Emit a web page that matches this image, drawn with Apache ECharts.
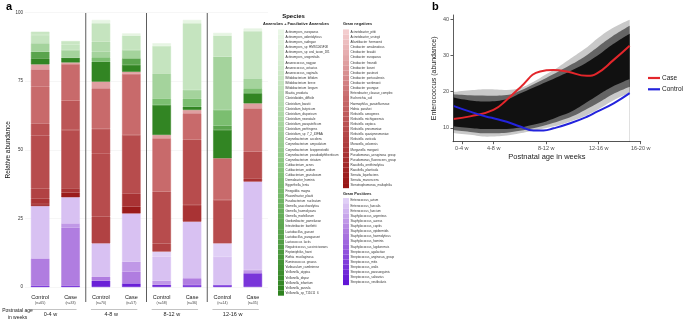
<!DOCTYPE html>
<html><head><meta charset="utf-8">
<script src="https://cdn.jsdelivr.net/npm/echarts@6/dist/echarts.min.js"></script>
<style>html,body{margin:0;padding:0;background:#fff}#c{width:685px;height:323px}</style>
</head><body><div id="c"></div><script>
// ---------- Panel a data ----------
const armLabels = ['Control','Case','Control','Case','Control','Case','Control','Case'];
const sampleSizes = ['n=65','n=33','n=70','n=57','n=58','n=36','n=14','n=35'];
const ageGroups = ['0-4 w','4-8 w','8-12 w','12-16 w'];
const barKeys = armLabels.map((a,i)=>a+' '+ageGroups[Math.floor(i/2)]);

const anaerobeSpecies = ['Actinomyces_europaeus','Actinomyces_odontolyticus','Actinomyces_radingae','Actinomyces_sp_HMSC065F08','Actinomyces_sp_oral_taxon_181','Actinomyces_urogenitalis','Anaerococcus_nagyae','Anaerococcus_octavius','Anaerococcus_vaginalis','Bifidobacterium_bifidum','Bifidobacterium_breve','Bifidobacterium_longum','Blautia_producta','Clostridioides_difficile','Clostridium_baratii','Clostridium_butyricum','Clostridium_disporicum','Clostridium_neonatale','Clostridium_paraputrificum','Clostridium_perfringens','Clostridium_sp_7_2_43FAA','Corynebacterium_accolens','Corynebacterium_amycolatum','Corynebacterium_kroppenstedtii','Corynebacterium_pseudodiphtheriticum','Corynebacterium_striatum','Cutibacterium_acnes','Cutibacterium_avidum','Cutibacterium_granulosum','Dermabacter_hominis','Eggerthella_lenta','Finegoldia_magna','Flavonifractor_plautii','Fusobacterium_nucleatum','Gemella_asaccharolytica','Gemella_haemolysans','Gemella_morbillorum','Gordonibacter_pamelaeae','Intestinibacter_bartlettii','Lactobacillus_gasseri','Lactobacillus_paragasseri','Lactococcus_lactis','Negativicoccus_succinicivorans','Peptoniphilus_harei','Rothia_mucilaginosa','Ruminococcus_gnavus','Varibaculum_cambriense','Veillonella_atypica','Veillonella_dispar','Veillonella_infantium','Veillonella_parvula','Veillonella_sp_T11011_6'];
const gramNegSpecies = ['Acinetobacter_pittii','Acinetobacter_ursingii','Atlantibacter_hermannii','Citrobacter_amalonaticus','Citrobacter_braakii','Citrobacter_europaeus','Citrobacter_freundii','Citrobacter_koseri','Citrobacter_pasteurii','Citrobacter_portucalensis','Citrobacter_werkmanii','Citrobacter_youngae','Enterobacter_cloacae_complex','Escherichia_coli','Haemophilus_parainfluenzae','Hafnia_paralvei','Klebsiella_aerogenes','Klebsiella_michiganensis','Klebsiella_oxytoca','Klebsiella_pneumoniae','Klebsiella_quasipneumoniae','Klebsiella_variicola','Moraxella_osloensis','Morganella_morganii','Pseudomonas_aeruginosa_group','Pseudomonas_fluorescens_group','Raoultella_ornithinolytica','Raoultella_planticola','Serratia_liquefaciens','Serratia_marcescens','Stenotrophomonas_maltophilia'];
const gramPosSpecies = ['Enterococcus_avium','Enterococcus_faecalis','Enterococcus_faecium','Staphylococcus_argenteus','Staphylococcus_aureus','Staphylococcus_capitis','Staphylococcus_epidermidis','Staphylococcus_haemolyticus','Staphylococcus_hominis','Staphylococcus_lugdunensis','Streptococcus_agalactiae','Streptococcus_anginosus_group','Streptococcus_mitis','Streptococcus_oralis','Streptococcus_parasanguinis','Streptococcus_salivarius','Streptococcus_vestibularis'];

// relative abundance per bar (Control/Case x 0-4, 4-8, 8-12, 12-16 w); unlisted species ~0
const gramPosValues = [
  ['Streptococcus_salivarius',   [0.5, 0.5, 2.3, 1.3, 0.8, 0.7, 0.7, 0]],
  ['Streptococcus_oralis',       [0, 0, 0, 0, 0, 0, 0, 5.0]],
  ['Staphylococcus_epidermidis', [9.9, 21.2, 1.5, 4.3, 0, 2.5, 0, 0]],
  ['Staphylococcus_aureus',      [0, 1.5, 0, 3.6, 1.5, 0, 0, 1.2]],
  ['Enterococcus_faecalis',      [19.1, 9.5, 12.1, 17.6, 8.8, 20.6, 10.3, 32.2]],
  ['Enterococcus_avium',         [0, 0, 0, 0, 1.8, 0, 4.9, 0]]
];
const gramNegValues = [
  ['Serratia_marcescens',          [0.7, 1.7, 0, 2.5, 0, 0, 0, 0]],
  ['Pseudomonas_aeruginosa_group', [2.1, 1.6, 0, 4.8, 0, 6.1, 0, 1.2]],
  ['Klebsiella_variicola',         [3.5, 0, 9.7, 0, 3.0, 0, 0, 0]],
  ['Klebsiella_pneumoniae',        [19.3, 21.2, 23.1, 21.3, 18.8, 23.7, 15.8, 9.7]],
  ['Klebsiella_oxytoca',           [4.5, 0, 8.9, 0, 0, 0, 0, 0]],
  ['Klebsiella_michiganensis',     [0, 10.7, 0, 0, 0, 0, 0, 0]],
  ['Escherichia_coli',             [13.5, 13.3, 14.8, 22.2, 19.5, 9.7, 15.2, 15.8]],
  ['Enterobacter_cloacae_complex', [6.2, 0, 0, 0, 0, 0, 0, 0]],
  ['Citrobacter_freundii',         [1.8, 0.6, 2.4, 0.8, 1.2, 1.2, 0, 1.8]]
];
const anaerobeValues = [
  ['Veillonella_parvula',       [2.2, 1.7, 7.3, 2.5, 10.9, 1.2, 10.3, 3.7]],
  ['Lactobacillus_gasseri',     [2.4, 0, 0, 2.4, 0, 0, 1.6, 0]],
  ['Eggerthella_lenta',         [0, 0, 1.6, 0, 2.4, 3.0, 5.7, 1.8]],
  ['Clostridium_perfringens',   [3.1, 2.8, 2.0, 3.0, 9.1, 3.1, 19.4, 3.6]],
  ['Clostridium_butyricum',     [0, 0, 3.7, 0, 0, 0, 0, 0]],
  ['Bifidobacterium_breve',     [3.0, 2.0, 6.7, 5.3, 10.0, 24.3, 7.7, 17.2]],
  ['Bifidobacterium_bifidum',   [1.2, 1.3, 0, 0, 0, 0, 0, 0]],
  ['Actinomyces_odontolyticus', [0, 0, 1.2, 0.8, 1.0, 1.2, 1.0, 1.0]]
];

// ---------- Panel b data ----------
const ageTickPositions = [3.57, 6.0, 10.0, 14.0, 17.2];
const ageTickLabels = ['0-4 w','4-8 w','8-12 w','12-16 w','16-20 w'];
const bandX      = [2.92, 4.2, 5.5, 7.0, 8.0, 9.0, 10.0, 11.0, 12.0, 13.0, 14.0, 15.0, 16.36];
const outerHigh  = [19.9, 20.4, 20.7, 20.5, 21.0, 22.7, 24.8, 27.0, 29.5, 32.0, 35.0, 37.5, 39.9];
const midHigh    = [19.3, 19.0, 18.9, 19.1, 20.3, 22.0, 23.8, 25.7, 27.7, 29.9, 32.6, 35.2, 38.2];
const denseHigh  = [18.4, 17.6, 17.3, 17.9, 19.5, 21.1, 22.7, 24.3, 26.0, 27.9, 30.2, 32.9, 36.0];
const denseLow   = [10.5, 10.0, 9.7, 9.7, 10.1, 10.9, 11.8, 13.2, 14.7, 16.9, 19.2, 21.3, 23.5];
const midLow     = [9.4, 8.9, 8.5, 8.7, 9.2, 9.9, 10.8, 11.9, 13.2, 15.0, 17.0, 19.2, 21.4];
const outerLow   = [8.6, 8.1, 7.6, 7.9, 8.5, 9.2, 10.0, 10.8, 12.0, 13.4, 15.2, 17.4, 19.7];
const caseX    = [2.92, 4.2, 5.98, 7.0, 8.02, 9.54, 10.56, 11.58, 13.1, 13.87, 15.14, 16.36];
const caseY    = [12.5, 13.2, 15.0, 17.8, 21.2, 25.6, 26.0, 25.6, 24.4, 25.1, 28.8, 32.7];
const controlX = [2.92, 4.2, 5.47, 5.98, 7.0, 8.02, 9.03, 9.8, 10.56, 11.83, 13.1, 13.87, 15.14, 16.36];
const controlY = [16.1, 14.5, 13.1, 12.7, 11.7, 10.4, 9.3, 9.3, 9.9, 11.3, 13.1, 14.5, 16.8, 19.6];

// ---------- colours ----------
function ramp(stops, t){
  for (let i=1;i<stops.length;i++){
    if (t<=stops[i][0]+1e-9){
      const a=stops[i-1], b=stops[i], f=(t-a[0])/(b[0]-a[0]);
      return 'rgb('+[0,1,2].map(k=>Math.round(a[1][k]+(b[1][k]-a[1][k])*f)).join(',')+')';
    }
  }
}
const greenStops  = [[0,[234,247,231]],[0.58,[125,191,114]],[1,[46,130,31]]];
const redStops    = [[0,[243,205,206]],[0.43,[200,106,108]],[1,[152,22,22]]];
const purpleStops = [[0,[224,207,246]],[0.375,[176,125,224]],[1,[98,22,214]]];

const FONT = 'Liberation Sans, Arial, sans-serif';
const series = [];
const zeros = [0,0,0,0,0,0,0,0];
[[gramPosSpecies, gramPosValues, purpleStops],[gramNegSpecies, gramNegValues, redStops],[anaerobeSpecies, anaerobeValues, greenStops]].forEach(([names, vals, stops])=>{
  const lookup = new Map(vals);
  for (let i=names.length-1;i>=0;i--){
    const col = ramp(stops, i/(names.length-1));
    const vals8 = lookup.get(names[i]) || zeros;
    series.push({type:'bar', name:names[i], stack:'abund', xAxisIndex:0, yAxisIndex:0, barWidth:'61%',
      data: vals8.map(v => v > 0 ? v : '-'),
      itemStyle:{color: col, borderWidth:0.5, borderColor:col, borderRadius:0}, emphasis:{disabled:true}, silent:true});
  }
});

function area(name, ys, color){
  return {type:'line', name, xAxisIndex:1, yAxisIndex:1, data: bandX.map((x,i)=>[x, ys[i]]),
    smooth:0.4, symbol:'none', lineStyle:{width:0}, areaStyle:{color, opacity:1, origin:'start'}, silent:true, z:2};
}
series.push(area('b1', outerHigh, '#c9c9c9'));
series.push(area('b2', midHigh, '#646464'));
series.push(area('b3', denseHigh, '#111111'));
series.push(area('b4', denseLow, '#646464'));
series.push(area('b5', midLow, '#c9c9c9'));
series.push(area('b6', outerLow, '#ffffff'));
series.push({type:'line', name:'Case', xAxisIndex:1, yAxisIndex:1, data: caseX.map((x,i)=>[x, caseY[i]]), smooth:0.5, symbol:'none', showSymbol:false, lineStyle:{color:'#e3262b', width:2}, itemStyle:{color:'#e3262b'}, z:4});
series.push({type:'line', name:'Control', xAxisIndex:1, yAxisIndex:1, data: controlX.map((x,i)=>[x, controlY[i]]), smooth:0.5, symbol:'none', showSymbol:false, lineStyle:{color:'#2323dc', width:2}, itemStyle:{color:'#2323dc'}, z:4});

function speciesLegend(data, left, top){
  return {data, orient:'vertical', left, top, itemGap:0, itemWidth:6, itemHeight:5.12, icon:'rect', padding:0,
    selectedMode:false, itemStyle:{borderWidth:0},
    textStyle:{fontSize:3, color:'#333', fontFamily:FONT, lineHeight:5.12, padding:[0,0,0,-3.5]}};
}

const chart = echarts.init(document.getElementById('c'), null, {renderer:'canvas'});
chart.setOption({
  animation:false,
  textStyle:{fontFamily:FONT},
  grid:[
    {left:25, right:417, top:12.5, bottom:36},
    {left:453, right:44.3, top:15, bottom:181.3}
  ],
  xAxis:[
    {gridIndex:0, type:'category', data:barKeys, axisLine:{show:false}, axisTick:{show:false},
      axisLabel:{interval:0, margin:7, formatter:(v,i)=>'{a|'+armLabels[i]+'}\n{b|('+sampleSizes[i]+')}',
        rich:{a:{fontSize:5.5, color:'#222', lineHeight:6.5}, b:{fontSize:3.5, color:'#444', lineHeight:6}}}},
    {gridIndex:1, type:'value', min:2.9, max:17.2, z:10,
      axisLine:{lineStyle:{color:'#333', width:0.8}},
      axisTick:{show:true, length:2.5, customValues:ageTickPositions, lineStyle:{color:'#333', width:0.8}},
      axisLabel:{customValues:ageTickPositions, fontSize:5.5, color:'#4d4d4d', margin:4, showMinLabel:true, showMaxLabel:true,
        formatter:v=>{const i=ageTickPositions.findIndex(p=>Math.abs(p-v)<1e-6); return i>=0?ageTickLabels[i]:'';}},
      splitLine:{show:false},
      name:'Postnatal age in weeks', nameLocation:'middle', nameGap:11, nameTextStyle:{fontSize:7.5, color:'#222'}}
  ],
  yAxis:[
    {gridIndex:0, type:'value', min:0, max:100, interval:25, axisLine:{show:false}, axisTick:{show:false},
      axisLabel:{fontSize:4.5, color:'#333', margin:2},
      splitLine:{lineStyle:{color:'#f0f0f0', width:0.6}},
      name:'Relative abundance', nameLocation:'middle', nameGap:11, nameTextStyle:{fontSize:6.5, color:'#111'}},
    {gridIndex:1, type:'value', min:6.2, max:41.2, z:10,
      axisLine:{show:true, lineStyle:{color:'#333', width:0.8}},
      axisTick:{show:true, length:2.5, customValues:[10,20,30,40], lineStyle:{color:'#333', width:0.8}},
      axisLabel:{customValues:[10,20,30,40], fontSize:5.5, color:'#4d4d4d', margin:4},
      splitLine:{show:false},
      name:'Enterococcus (abundance)', nameLocation:'middle', nameGap:15, nameTextStyle:{fontSize:7, color:'#222'}}
  ],
  legend:[
    speciesLegend(anaerobeSpecies, 278, 29.45),
    speciesLegend(gramNegSpecies, 343, 29.45),
    speciesLegend(gramPosSpecies, 343, 198.1),
    {data:[{name:'Case', icon:'rect'},{name:'Control', icon:'rect'}], orient:'vertical', left:648, top:74, itemWidth:12, itemHeight:2.2, itemGap:3.3, padding:0,
      selectedMode:false, itemStyle:{borderWidth:0},
      textStyle:{fontSize:6.5, color:'#222', lineHeight:8, padding:[0,0,0,-3]}}
  ],
  series
});

// decorations positioned from the category axis
const px = i => chart.convertToPixel({xAxisIndex:0}, barKeys[i]);
const g = [];
[1,3,5].forEach(i=>{
  const x=(px(i)+px(i+1))/2;
  g.push({type:'line', shape:{x1:x, y1:13, x2:x, y2:302}, style:{stroke:'#4a4a4a', lineWidth:0.9}, silent:true});
});
ageGroups.forEach((lab,k)=>{
  const l=px(2*k), r=px(2*k+1);
  g.push({type:'line', shape:{x1:l-10, y1:309.5, x2:r+6, y2:309.5}, style:{stroke:'#9a9a9a', lineWidth:0.6}, silent:true});
  g.push({type:'text', x:(l+r)/2-5, y:314.5, style:{text:lab, fontSize:5.5, fill:'#222', align:'center', verticalAlign:'middle', fontFamily:FONT}, silent:true});
});
g.push({type:'text', x:17.5, y:311, style:{text:'Postnatal age', fontSize:5, fill:'#222', align:'center', verticalAlign:'middle', fontFamily:FONT}});
g.push({type:'text', x:17.5, y:318, style:{text:'in weeks', fontSize:5, fill:'#222', align:'center', verticalAlign:'middle', fontFamily:FONT}});
g.push({type:'text', x:6, y:6.5, style:{text:'a', fontSize:11, fontWeight:'bold', fill:'#000', align:'left', verticalAlign:'middle', fontFamily:FONT}});
g.push({type:'text', x:432, y:6.5, style:{text:'b', fontSize:11, fontWeight:'bold', fill:'#000', align:'left', verticalAlign:'middle', fontFamily:FONT}});
g.push({type:'text', x:293.5, y:16, style:{text:'Species', fontSize:6, fontWeight:'bold', fill:'#111', align:'center', verticalAlign:'middle', fontFamily:FONT}});
g.push({type:'text', x:263, y:24, style:{text:'Anaerobes + Facultative Anaerobes', fontSize:3.9, fontWeight:'bold', fill:'#222', align:'left', verticalAlign:'middle', fontFamily:FONT}});
g.push({type:'text', x:343, y:24, style:{text:'Gram negatives', fontSize:3.9, fontWeight:'bold', fill:'#222', align:'left', verticalAlign:'middle', fontFamily:FONT}});
g.push({type:'text', x:343, y:194.3, style:{text:'Gram Positives', fontSize:3.9, fontWeight:'bold', fill:'#222', align:'left', verticalAlign:'middle', fontFamily:FONT}});
chart.setOption({graphic:g});
</script></body></html>
